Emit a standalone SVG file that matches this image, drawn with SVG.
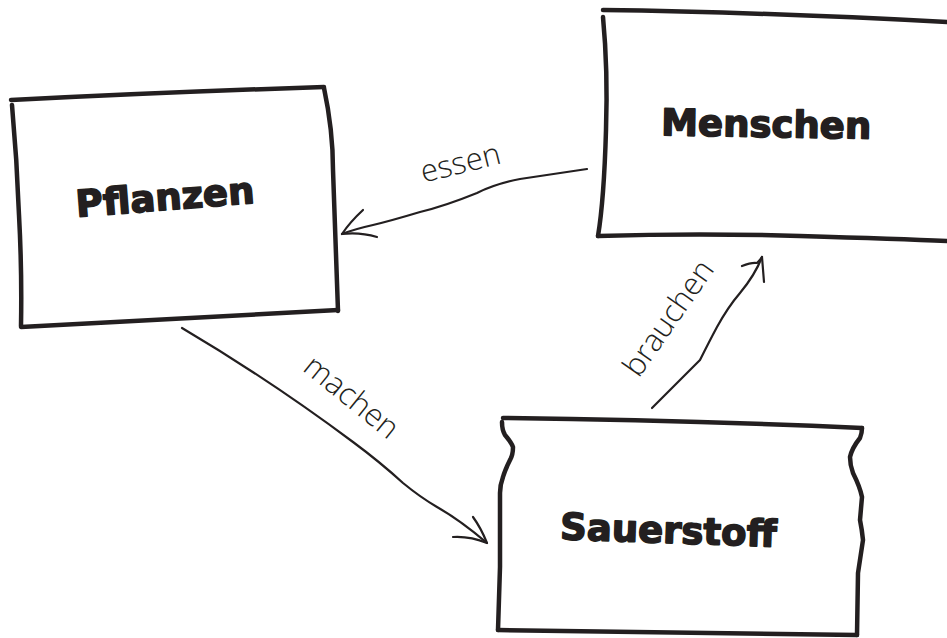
<svg xmlns="http://www.w3.org/2000/svg" width="947" height="638" viewBox="0 0 947 638">
<style>
.box{fill:none;stroke:#231f20;stroke-width:4.5;stroke-linecap:round;stroke-linejoin:round}
.con{fill:none;stroke:#231f20;stroke-width:2.2;stroke-linecap:round;stroke-linejoin:round}
.title{font-family:"DejaVu Sans","Liberation Sans",sans-serif;font-weight:bold;font-size:37px;fill:#231f20;stroke:#231f20;stroke-width:1.6;stroke-linejoin:round;text-anchor:middle}
.lbl{font-family:"Open Sans","Liberation Sans",sans-serif;font-weight:300;font-size:31px;fill:#231f20;text-anchor:middle}
</style>
<rect width="947" height="638" fill="#ffffff"/>
<g id="pflanzen">
<path class="box" d="M11,100 Q170,92 324,87"/>
<path class="box" d="M12,105 Q17,160 19,215 Q22,270 21,326"/>
<path class="box" d="M21,327 Q180,318 338,310"/>
<path class="box" d="M324,88 Q333,130 333,170 Q336,250 338,311"/>
<text class="title" transform="translate(166,210) rotate(-4.5)">Pflanzen</text>
</g>
<g id="menschen">
<path class="box" d="M603,10 Q760,12 947,22"/>
<path class="box" d="M603,17 Q608,70 606,130 Q604,200 598,236"/>
<path class="box" d="M598,236 Q700,233 800,236 T947,241"/>
<text class="title" transform="translate(766,137) rotate(1)">Menschen</text>
</g>
<g id="sauerstoff">
<path class="box" d="M503,418 Q680,420 862,428"/>
<path class="box" d="M502,422 Q502,430 505,435 Q511,442 513,447 Q513,455 510,460 Q505,470 503,477 Q500,485 500,493 L500,567 L498,630"/>
<path class="box" d="M498,630 Q680,633 857,635"/>
<path class="box" d="M862,428 Q862,433 860,438 Q852,448 850,457 Q850,465 853,473 Q860,487 862,497 L860,520 Q862,530 863,540 L858,573 L857,635"/>
<text class="title" transform="translate(668,543) rotate(2)">Sauerstoff</text>
</g>
<g id="connectors">
<path class="con" d="M587,169 Q540,176 520,179 Q495,184 477,193 Q445,206 420,212 Q390,221 373,225 Q355,229 342,234"/>
<path class="con" d="M363,210 Q350,222 342,234 Q360,232 377,237"/>
<text class="lbl" transform="translate(463,173) rotate(-14)">essen</text>
<path class="con" d="M182,328 Q270,380 353,442 Q380,462 403,483 Q420,497 437,507 Q460,520 487,543"/>
<path class="con" d="M473,517 Q481,528 487,543 Q470,536 453,537"/>
<text class="lbl" transform="translate(345,405) rotate(39)">machen</text>
<path class="con" d="M652,408 Q680,380 700,360 Q710,340 717,327 Q728,307 740,293 Q755,275 762,257"/>
<path class="con" d="M742,266 Q752,262 757,263 Q760,260 762,257 Q763,270 764,282"/>
<text class="lbl" transform="translate(677,324) rotate(-55)">brauchen</text>
</g>
</svg>
